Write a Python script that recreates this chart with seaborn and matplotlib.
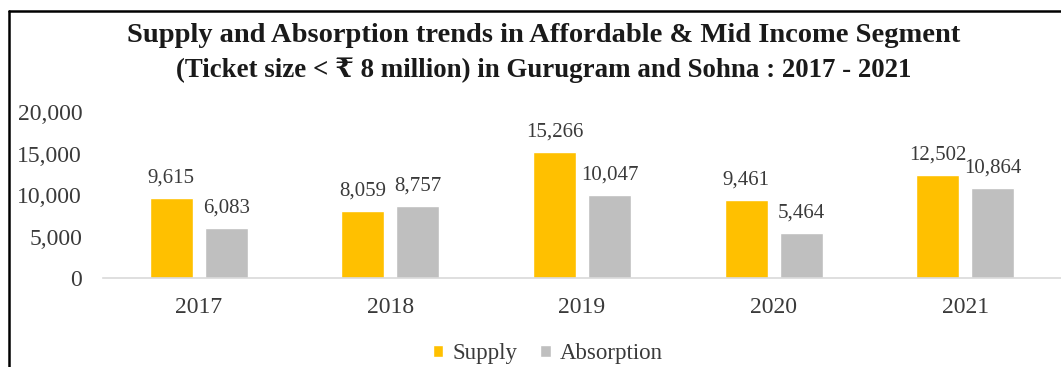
import matplotlib
matplotlib.use("Agg")
import matplotlib.pyplot as plt
from matplotlib.lines import Line2D
import seaborn as sns
import pandas as pd

# Data (units)
years = ["2017", "2018", "2019", "2020", "2021"]
supply = [9615, 8059, 15266, 9461, 12502]
absorption = [6083, 8757, 10047, 5464, 10864]
series_names = ["Supply", "Absorption"]
colors = ["#FFC000", "#BFBFBF"]

df = pd.DataFrame({
    "Year": years * 2,
    "Units": supply + absorption,
    "Series": [series_names[0]] * len(years) + [series_names[1]] * len(years),
})

sns.set_style("white")
serif = ["Liberation Serif", "DejaVu Serif", "DejaVu Sans"]
plt.rcParams["font.family"] = serif
text_color = "#3a3a3a"

W, H = 1061, 367
fig = plt.figure(figsize=(W / 100, H / 100), dpi=100)
ax = fig.add_axes([103 / W, 1 - 278 / H, (W - 103) / W, (278 - 112.5) / H])

sns.barplot(data=df, x="Year", y="Units", hue="Series", palette=colors,
            width=0.574, gap=0.218, saturation=1, ax=ax, legend=True)

ax.set_xlim(-0.5, 4.5)
ax.set_ylim(0, 20000)
ax.set_yticks([0, 5000, 10000, 15000, 20000])
ax.set_yticklabels([f"{v:,}" for v in [0, 5000, 10000, 15000, 20000]])
ax.set_xlabel("")
ax.set_ylabel("")

for s in ["left", "right", "top"]:
    ax.spines[s].set_visible(False)
ax.spines["bottom"].set_color("#d9d9d9")
ax.spines["bottom"].set_linewidth(1.2)

ax.tick_params(axis="y", length=0, pad=15, labelsize=17, labelcolor=text_color)
ax.tick_params(axis="x", length=0, pad=14, labelsize=17, labelcolor=text_color)

for container, vals in zip(ax.containers, [supply, absorption]):
    ax.bar_label(container, labels=[f"{v:,}" for v in vals], padding=7.5,
                 fontsize=15, color=text_color)

handles, labels = ax.get_legend_handles_labels()
ax.get_legend().remove()
fig.legend(handles, labels, loc="center", bbox_to_anchor=(548 / W, 1 - 354 / H),
           ncol=2, frameon=False, fontsize=16.5, handlelength=0.45,
           handleheight=0.45, handletextpad=0.4, columnspacing=1.0,
           labelcolor=text_color)

fig.text(544 / W, 1 - 35 / H,
         "Supply and Absorption trends in Affordable & Mid Income Segment",
         ha="center", va="center", fontsize=20.5, fontweight="bold",
         color="#1a1a1a", family=serif)
fig.text(544 / W, 1 - 70 / H,
         "(Ticket size < \u20b9 8 million) in Gurugram and Sohna : 2017 - 2021",
         ha="center", va="center", fontsize=19.4, fontweight="bold",
         color="#1a1a1a", family=serif)

# Outer frame (top and left edges)
fig.add_artist(Line2D([8.5 / W, 1], [1 - 10.5 / H, 1 - 10.5 / H],
                      transform=fig.transFigure, color="black", lw=1.8))
fig.add_artist(Line2D([8.5 / W, 8.5 / W], [0, 1 - 10.5 / H],
                      transform=fig.transFigure, color="black", lw=1.8))

fig.savefig("out.png", dpi=100)
